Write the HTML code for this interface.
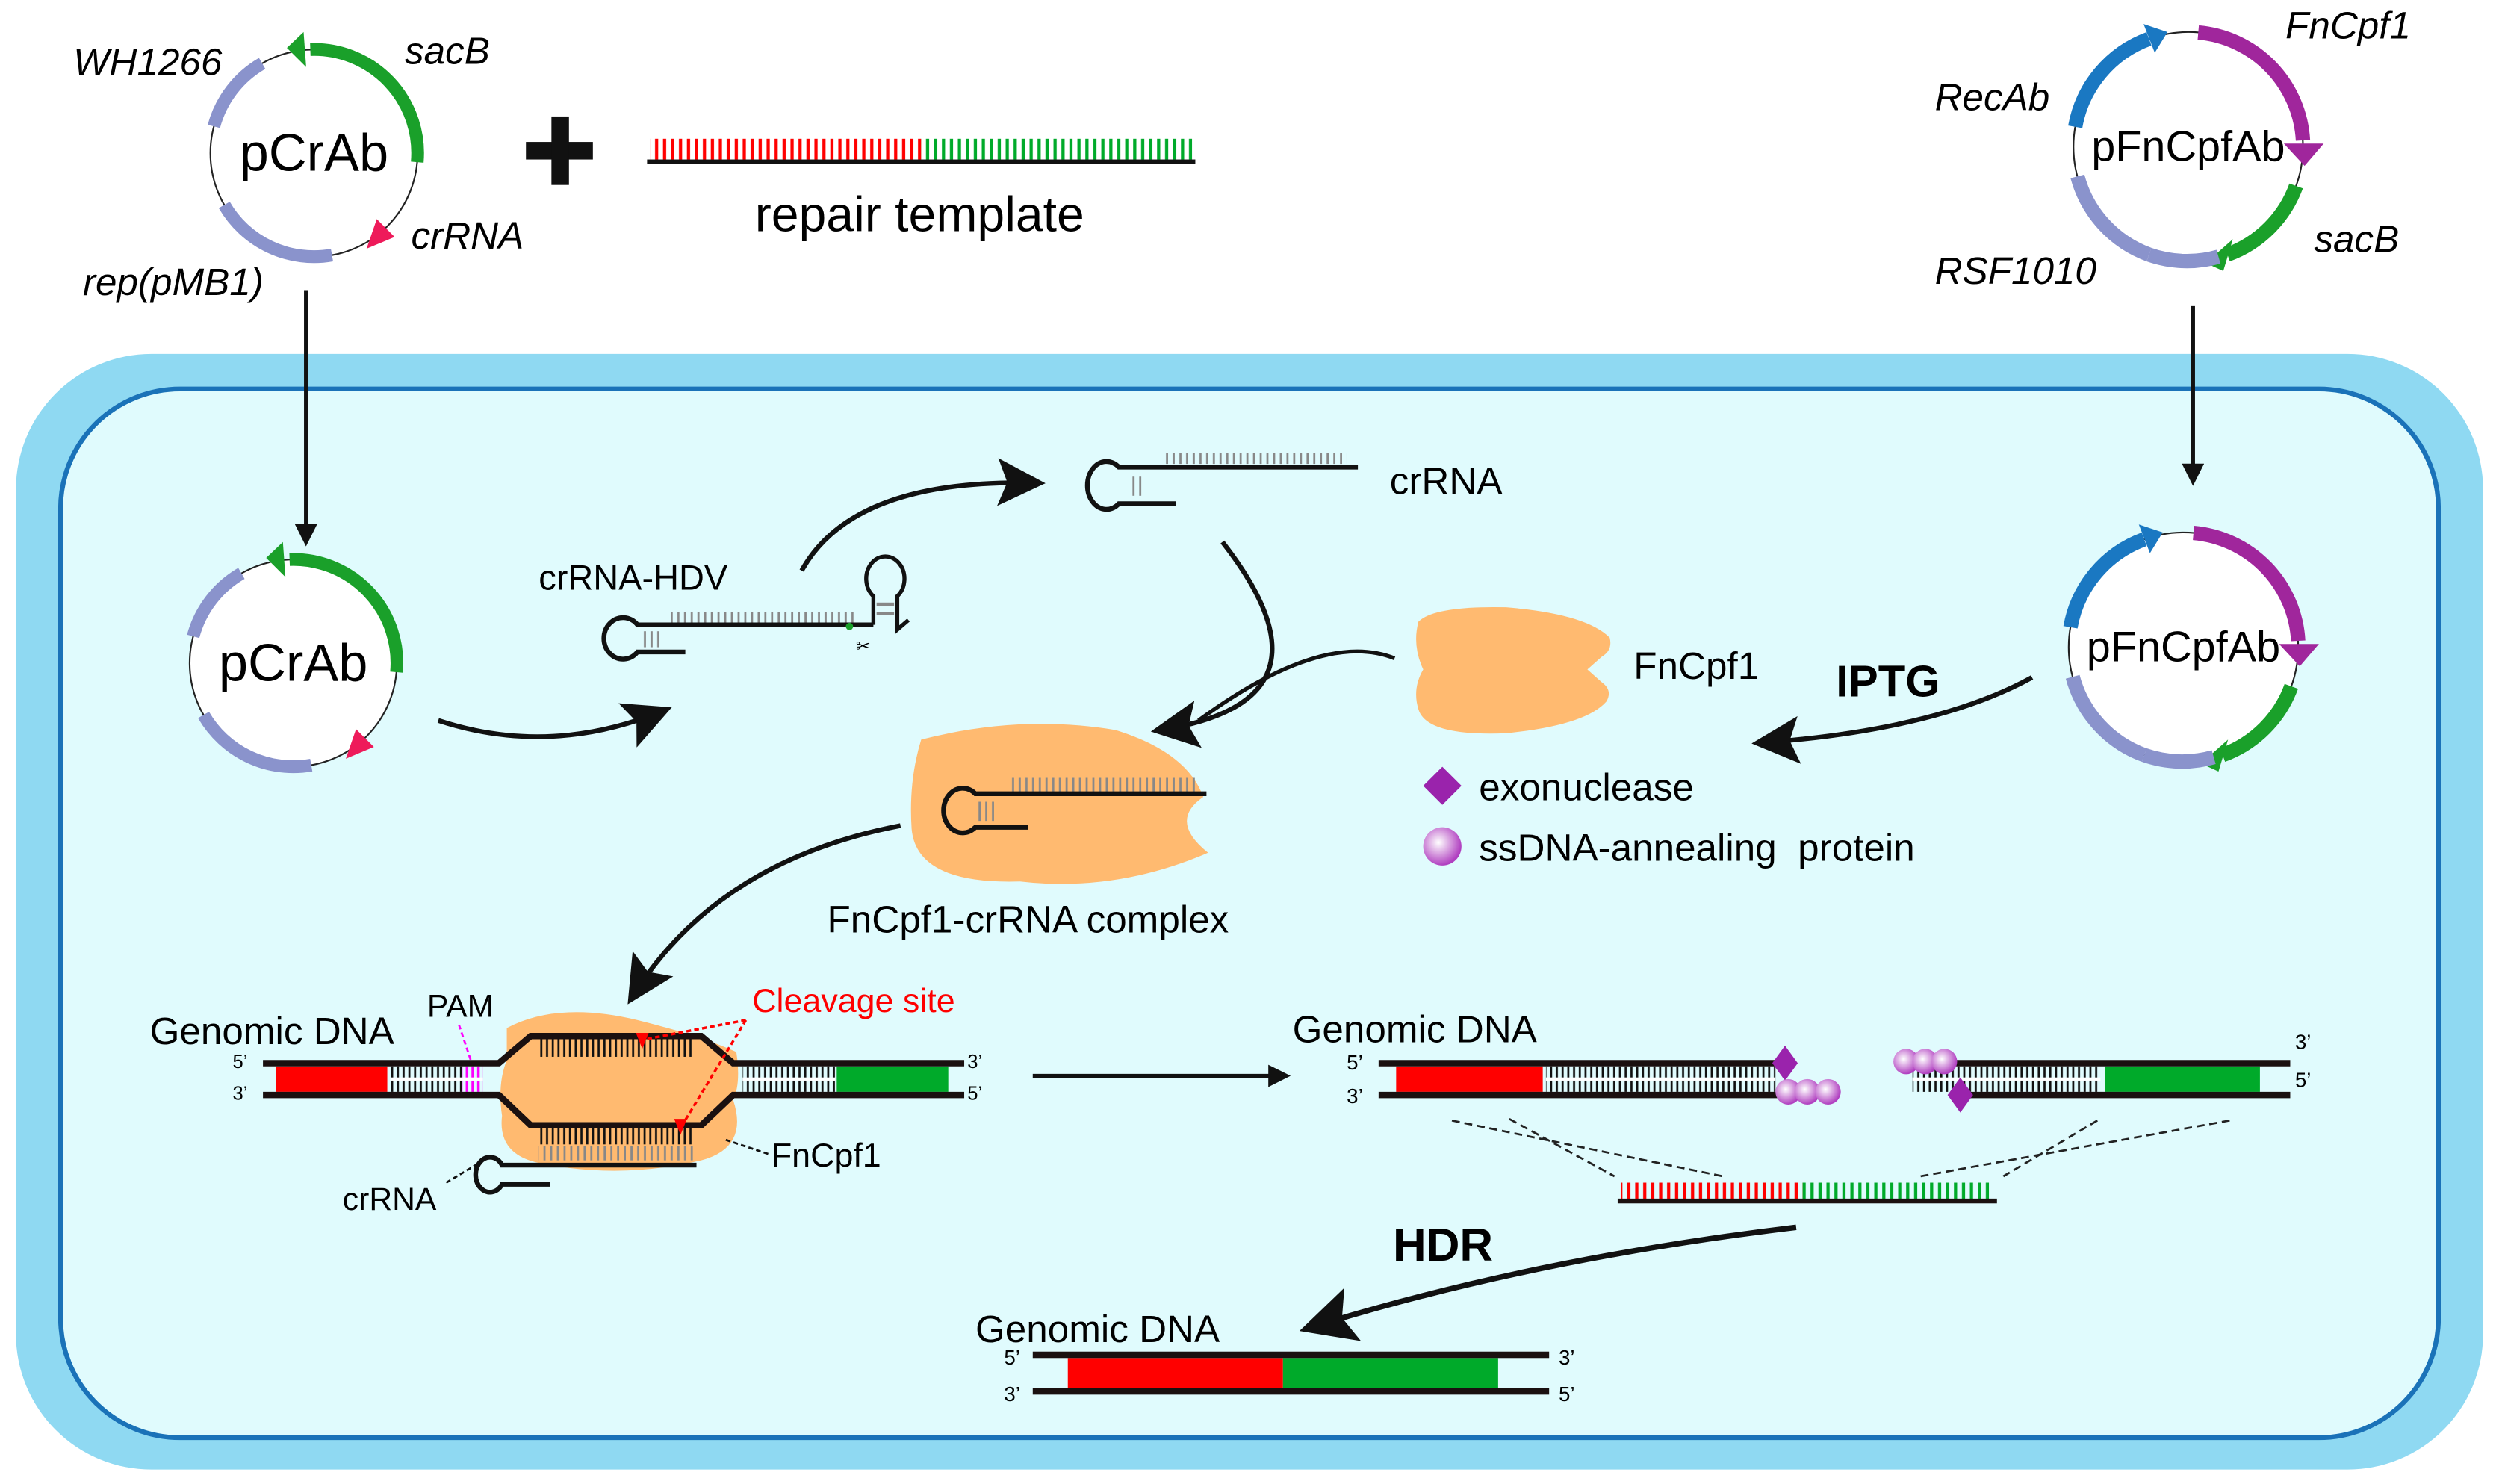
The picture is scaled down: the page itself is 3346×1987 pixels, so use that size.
<!DOCTYPE html>
<html><head><meta charset="utf-8"><style>html,body{margin:0;padding:0;background:#fff}svg{display:block}text{font-family:"Liberation Sans",sans-serif}</style></head>
<body>
<svg width="3346" height="1987" viewBox="0 0 1568 931" xmlns="http://www.w3.org/2000/svg">
<defs>
<pattern id="tb" width="3.6" height="20" patternUnits="userSpaceOnUse"><rect x="0.6" y="0" width="1.3" height="20" fill="#111"/></pattern>
<pattern id="tg" width="4.2" height="20" patternUnits="userSpaceOnUse"><rect x="0.8" y="0" width="1.3" height="20" fill="#888"/></pattern>
<pattern id="tr" width="5" height="20" patternUnits="userSpaceOnUse"><rect x="1" y="0" width="2" height="20" fill="#f00"/></pattern>
<pattern id="tn" width="5" height="20" patternUnits="userSpaceOnUse"><rect x="1" y="0" width="2" height="20" fill="#00aa2a"/></pattern>
<pattern id="tm" width="3.6" height="20" patternUnits="userSpaceOnUse"><rect x="0.6" y="0" width="1.6" height="20" fill="#f0f"/></pattern>
<marker id="ah" viewBox="0 0 10 10" refX="8" refY="5" markerWidth="16" markerHeight="14" orient="auto" markerUnits="userSpaceOnUse"><path d="M0,0 L10,5 L0,10 Z" fill="#111"/></marker>
<marker id="ab" viewBox="0 0 10 10" refX="8" refY="5" markerWidth="10" markerHeight="10" orient="auto"><path d="M0,0 L10,5 L0,10 L2,5 Z" fill="#111"/></marker>
<radialGradient id="sp" cx="0.4" cy="0.4" r="0.6"><stop offset="0" stop-color="#fff"/><stop offset="1" stop-color="#b03fc0"/></radialGradient>
</defs>

<rect x="10" y="222" width="1548" height="700" rx="85" fill="#8fd9f2"/>
<rect x="38" y="244" width="1492" height="658" rx="75" fill="#e0fbfd" stroke="#1a72b8" stroke-width="3"/>

<g>
<circle cx="197" cy="96" r="65" fill="#fff" stroke="#222" stroke-width="1"/>
<path d="M194.7,31.0 A65,65 0 0 1 261.8,101.7" fill="none" stroke="#1aa02a" stroke-width="8"/>
<polygon points="180,30 190.5,20 192.1,42" fill="#1aa02a"/>
<path d="M134.2,79.2 A65,65 0 0 1 164.5,39.7" fill="none" stroke="#8a93cc" stroke-width="8"/>
<path d="M208.3,160 A65,65 0 0 1 140.7,128.5" fill="none" stroke="#8a93cc" stroke-width="8"/>
<polygon points="230,156 247.6,148.6 236.4,137.4" fill="#ee1a5a"/>
<text x="197" y="107" font-size="33" text-anchor="middle">pCrAb</text>
</g>
<text x="46" y="47" font-size="24" font-style="italic">WH1266</text>
<text x="254" y="40" font-size="24" font-style="italic">sacB</text>
<text x="258" y="156" font-size="24" font-style="italic">crRNA</text>
<text x="52" y="185" font-size="24" font-style="italic">rep(pMB1)</text>

<g transform="translate(-13,320)">
<circle cx="197" cy="96" r="65" fill="#fff" stroke="#222" stroke-width="1"/>
<path d="M194.7,31.0 A65,65 0 0 1 261.8,101.7" fill="none" stroke="#1aa02a" stroke-width="8"/>
<polygon points="180,30 190.5,20 192.1,42" fill="#1aa02a"/>
<path d="M134.2,79.2 A65,65 0 0 1 164.5,39.7" fill="none" stroke="#8a93cc" stroke-width="8"/>
<path d="M208.3,160 A65,65 0 0 1 140.7,128.5" fill="none" stroke="#8a93cc" stroke-width="8"/>
<polygon points="230,156 247.6,148.6 236.4,137.4" fill="#ee1a5a"/>
<text x="197" y="107" font-size="33" text-anchor="middle">pCrAb</text>
</g>

<rect x="330" y="89" width="42" height="11" fill="#111"/>
<rect x="346" y="73" width="11" height="43" fill="#111"/>

<rect x="408" y="87" width="170" height="13" fill="url(#tr)"/>
<rect x="578" y="87" width="170" height="13" fill="url(#tn)"/>
<rect x="406" y="100" width="344" height="3" fill="#111"/>
<text x="577" y="145" font-size="31" text-anchor="middle">repair template</text>

<g>
<circle cx="1373" cy="92" r="72" fill="#fff" stroke="#222" stroke-width="1"/>
<path d="M1379.3,20.3 A72,72 0 0 1 1445,88" fill="none" stroke="#a0269c" stroke-width="9"/>
<polygon points="1433,90 1458,90 1446,104" fill="#a0269c"/>
<path d="M1440.7,116.6 A72,72 0 0 1 1397.6,159.7" fill="none" stroke="#1aa02a" stroke-width="9"/>
<polygon points="1384,165 1401,150 1395,170" fill="#1aa02a"/>
<path d="M1302.1,79.5 A72,72 0 0 1 1348.4,24.3" fill="none" stroke="#1a78c2" stroke-width="9"/>
<polygon points="1360,20 1345,15 1352,33" fill="#1a78c2"/>
<path d="M1348.4,159.7 A72,72 0 0 1 1303.5,110.6" fill="none" stroke="#8a93cc" stroke-width="9"/>
<path d="M1348.4,159.7 A72,72 0 0 0 1392,161" fill="none" stroke="#8a93cc" stroke-width="9"/>
<text x="1373" y="101" font-size="27" text-anchor="middle">pFnCpfAb</text>
</g>
<text x="1434" y="24" font-size="24" font-style="italic">FnCpf1</text>
<text x="1214" y="69" font-size="24" font-style="italic">RecAb</text>
<text x="1452" y="158" font-size="24" font-style="italic">sacB</text>
<text x="1214" y="178" font-size="24" font-style="italic">RSF1010</text>

<g transform="translate(-3,314)">
<circle cx="1373" cy="92" r="72" fill="#fff" stroke="#222" stroke-width="1"/>
<path d="M1379.3,20.3 A72,72 0 0 1 1445,88" fill="none" stroke="#a0269c" stroke-width="9"/>
<polygon points="1433,90 1458,90 1446,104" fill="#a0269c"/>
<path d="M1440.7,116.6 A72,72 0 0 1 1397.6,159.7" fill="none" stroke="#1aa02a" stroke-width="9"/>
<polygon points="1384,165 1401,150 1395,170" fill="#1aa02a"/>
<path d="M1302.1,79.5 A72,72 0 0 1 1348.4,24.3" fill="none" stroke="#1a78c2" stroke-width="9"/>
<polygon points="1360,20 1345,15 1352,33" fill="#1a78c2"/>
<path d="M1348.4,159.7 A72,72 0 0 1 1303.5,110.6" fill="none" stroke="#8a93cc" stroke-width="9"/>
<path d="M1348.4,159.7 A72,72 0 0 0 1392,161" fill="none" stroke="#8a93cc" stroke-width="9"/>
<text x="1373" y="101" font-size="27" text-anchor="middle">pFnCpfAb</text>
</g>

<line x1="192" y1="182" x2="192" y2="340" stroke="#111" stroke-width="2.5" marker-end="url(#ah)"/>
<line x1="1376" y1="192" x2="1376" y2="302" stroke="#111" stroke-width="2.5" marker-end="url(#ah)"/>

<g fill="none" stroke="#111" stroke-width="3">
<path d="M275,452 Q345,475 416,446" marker-end="url(#ab)"/>
<path d="M503,358 Q535,300 650,303" marker-end="url(#ab)"/>
<path d="M767,340 Q845,440 728,458" marker-end="url(#ab)"/>
<path d="M875,413 Q830,395 752,452" stroke-width="2.5"/>
<path d="M565,518 Q450,540 397,625" marker-end="url(#ab)"/>
<path d="M1275,425 Q1215,458 1105,466" marker-end="url(#ab)"/>
<path d="M1127,770 Q960,790 822,833" stroke-width="3.5" marker-end="url(#ab)"/>
<line x1="648" y1="675" x2="807" y2="675" stroke-width="2.5" marker-end="url(#ah)"/>
</g>

<text x="338" y="370" font-size="22">crRNA-HDV</text>
<rect x="421" y="384" width="116" height="7" fill="url(#tg)"/>
<rect x="403" y="396" width="13" height="10" fill="url(#tg)"/>
<path d="M548,392 L400,392 A12,13 0 1 0 400,409 L430,409" fill="none" stroke="#111" stroke-width="3"/>
<path d="M548,392 L548,374 A12,14 0 1 1 563,374 L563,395 L570,389" fill="none" stroke="#111" stroke-width="2.5"/>
<rect x="550" y="378" width="11" height="2" fill="#888"/><rect x="550" y="384" width="11" height="2" fill="#888"/>
<circle cx="533" cy="393" r="2.3" fill="#1aa02a"/>
<text x="537" y="409" font-size="11">✂</text>

<rect x="729" y="284" width="116" height="7" fill="url(#tg)"/>
<rect x="708" y="299" width="10" height="12" fill="url(#tg)"/>
<path d="M852,293 L702,293 A12,15 0 1 0 702,316 L738,316" fill="none" stroke="#111" stroke-width="3"/>
<text x="872" y="310" font-size="24">crRNA</text>

<path d="M890,390 Q900,380 945,381 Q995,385 1010,400 Q1012,408 1005,412 L996,420 L1005,428 Q1012,433 1008,440 Q995,455 945,460 Q895,462 890,445 Q886,432 893,420 Q886,405 890,390 Z" fill="#ffba70"/>
<text x="1025" y="426" font-size="24">FnCpf1</text>
<text x="1152" y="437" font-size="28" font-weight="bold">IPTG</text>

<polygon points="905,481 917,493 905,505 893,493" fill="#9a23ac"/>
<text x="928" y="502" font-size="24">exonuclease</text>
<circle cx="905" cy="531" r="12" fill="url(#sp)"/>
<text x="928" y="540" font-size="24">ssDNA-annealing&#160;&#160;protein</text>

<path d="M578,464 Q640,448 700,458 Q745,472 755,500 Q733,515 758,535 Q700,560 640,553 Q575,555 572,520 Q570,490 578,464 Z" fill="#ffba70"/>
<rect x="633" y="488" width="118" height="9" fill="url(#tg)"/>
<rect x="612" y="503" width="12" height="12" fill="url(#tg)"/>
<path d="M757,498 L612,498 A12,14 0 1 0 612,519 L645,519" fill="none" stroke="#111" stroke-width="3"/>
<text x="645" y="585" font-size="24" text-anchor="middle">FnCpf1-crRNA complex</text>

<text x="94" y="655" font-size="24">Genomic DNA</text>
<text x="268" y="638" font-size="20">PAM</text>
<line x1="288" y1="643" x2="296" y2="667" stroke="#f0f" stroke-width="1.3" stroke-dasharray="3,2"/>
<path d="M318,645 Q350,628 400,640 Q440,650 462,660 Q465,680 460,690 Q470,720 440,728 Q390,740 340,730 Q312,725 315,700 Q312,680 318,665 Z" fill="#ffba70"/>
<rect x="173" y="669" width="70" height="16" fill="#f00"/>
<rect x="245" y="669" width="45" height="16" fill="url(#tb)"/>
<rect x="290" y="669" width="13" height="16" fill="url(#tm)"/>
<rect x="466" y="669" width="58" height="16" fill="url(#tb)"/>
<rect x="525" y="669" width="70" height="16" fill="#00aa2a"/>
<rect x="245" y="676" width="58" height="2" fill="#fff"/>
<rect x="466" y="676" width="58" height="2" fill="#fff"/>
<rect x="338" y="652" width="98" height="11" fill="url(#tb)"/>
<rect x="338" y="707" width="98" height="11" fill="url(#tb)"/>
<rect x="338" y="719" width="98" height="9" fill="url(#tg)"/>
<g fill="none" stroke="#1a1010" stroke-width="4">
<path d="M165,667 L313,667 L333,650 L440,650 L460,667 L605,667"/>
<path d="M165,687 L313,687 L333,706 L440,706 L460,687 L605,687"/>
</g>
<path d="M437,731 L315,731 A9,11 0 1 0 315,743 L345,743" fill="none" stroke="#111" stroke-width="3"/>
<text x="146" y="670" font-size="12">5’</text><text x="146" y="690" font-size="12">3’</text>
<text x="607" y="670" font-size="12">3’</text><text x="607" y="690" font-size="12">5’</text>
<text x="472" y="635" font-size="21" fill="#f00">Cleavage site</text>
<g stroke="#f00" stroke-width="1.6" stroke-dasharray="3,2" fill="none">
<path d="M468,640 L405,652"/><path d="M468,640 L428,706"/>
</g>
<polygon points="399,648 407,648 403,658" fill="#f00"/>
<polygon points="423,702 431,702 427,712" fill="#f00"/>
<line x1="482" y1="724" x2="455" y2="715" stroke="#111" stroke-width="1.3" stroke-dasharray="3,2"/>
<text x="484" y="732" font-size="21">FnCpf1</text>
<line x1="280" y1="742" x2="305" y2="727" stroke="#111" stroke-width="1.3" stroke-dasharray="3,2"/>
<text x="215" y="759" font-size="20">crRNA</text>

<text x="811" y="654" font-size="24">Genomic DNA</text>
<rect x="876" y="669" width="92" height="16" fill="#f00"/>
<rect x="970" y="669" width="144" height="16" fill="url(#tb)"/>
<rect x="970" y="676" width="144" height="2" fill="#fff"/>
<rect x="1200" y="669" width="118" height="16" fill="url(#tb)"/>
<rect x="1200" y="676" width="118" height="2" fill="#fff"/>
<rect x="1321" y="669" width="97" height="16" fill="#00aa2a"/>
<g stroke="#1a1010" stroke-width="4">
<line x1="865" y1="667" x2="1118" y2="667"/><line x1="865" y1="687" x2="1152" y2="687"/>
<line x1="1190" y1="667" x2="1437" y2="667"/><line x1="1230" y1="687" x2="1437" y2="687"/>
</g>
<polygon points="1120,656 1128,667 1120,678 1112,667" fill="#9a23ac"/>
<polygon points="1230,676 1238,687 1230,698 1222,687" fill="#9a23ac"/>
<circle cx="1122" cy="685" r="8" fill="url(#sp)"/><circle cx="1134" cy="685" r="8" fill="url(#sp)"/><circle cx="1147" cy="685" r="8" fill="url(#sp)"/>
<circle cx="1196" cy="666" r="8" fill="url(#sp)"/><circle cx="1208" cy="666" r="8" fill="url(#sp)"/><circle cx="1220" cy="666" r="8" fill="url(#sp)"/>
<text x="845" y="671" font-size="13">5’</text><text x="845" y="692" font-size="13">3’</text>
<text x="1440" y="658" font-size="13">3’</text><text x="1440" y="682" font-size="13">5’</text>
<g stroke="#222" stroke-width="1.3" stroke-dasharray="5,3">
<line x1="911" y1="703" x2="1081" y2="738"/><line x1="947" y1="702" x2="1013" y2="738"/>
<line x1="1399" y1="703" x2="1205" y2="738"/><line x1="1316" y1="703" x2="1257" y2="738"/>
</g>
<rect x="1017" y="742" width="114" height="11" fill="url(#tr)"/>
<rect x="1131" y="742" width="117" height="11" fill="url(#tn)"/>
<rect x="1015" y="752" width="238" height="3" fill="#1a1010"/>
<text x="874" y="791" font-size="29" font-weight="bold">HDR</text>

<text x="612" y="842" font-size="24">Genomic DNA</text>
<rect x="670" y="852" width="135" height="20" fill="#f00"/>
<rect x="805" y="852" width="135" height="20" fill="#00aa2a"/>
<rect x="648" y="848" width="324" height="4" fill="#1a1010"/>
<rect x="648" y="871" width="324" height="4" fill="#1a1010"/>
<text x="630" y="856" font-size="13">5’</text><text x="630" y="879" font-size="13">3’</text>
<text x="978" y="856" font-size="13">3’</text><text x="978" y="879" font-size="13">5’</text>
</svg>
</body></html>
